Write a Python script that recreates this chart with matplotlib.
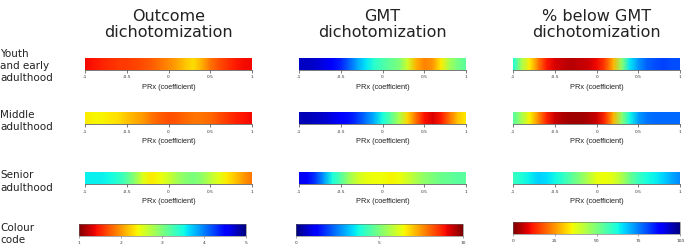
import numpy as np
import matplotlib
matplotlib.use("Agg")
import matplotlib.pyplot as plt
from matplotlib.colors import Normalize
from matplotlib.cm import ScalarMappable

# PRx grid the values were read at
prx = [-1.0, -0.9, -0.8, -0.7, -0.6, -0.5, -0.4, -0.3, -0.2, -0.1, 0.0,
       0.1, 0.2, 0.3, 0.4, 0.5, 0.6, 0.7, 0.8, 0.9, 1.0]

col_titles = ["Outcome\ndichotomization", "GMT\ndichotomization", "% below GMT\ndichotomization"]
row_labels = ["Youth\nand early\nadulthood", "Middle\nadulthood", "Senior\nadulthood", "Colour\ncode"]

# outcome dichotomization (colour code 1-5)
outcome_youth = [1.4, 1.45, 1.5, 1.55, 1.6, 1.62, 1.65, 1.7, 1.75, 1.85, 1.95,
                 2.05, 2.2, 2.3, 2.1, 1.85, 1.7, 1.58, 1.48, 1.42, 1.4]
outcome_middle = [2.35, 2.4, 2.4, 2.35, 2.3, 2.2, 2.1, 2.0, 1.85, 1.75, 1.7,
                  1.72, 1.8, 1.85, 1.85, 1.8, 1.7, 1.6, 1.5, 1.44, 1.4]
outcome_senior = [3.55, 3.55, 3.55, 3.5, 3.4, 3.2, 2.9, 2.5, 2.35, 2.45, 2.6,
                  2.8, 2.95, 3.0, 2.9, 2.7, 2.5, 2.35, 2.2, 2.0, 1.85]

# GMT dichotomization (colour code 0-10)
gmt_youth = [0.6, 0.6, 0.7, 0.9, 1.2, 1.6, 2.2, 2.9, 3.5, 4.0, 4.4,
             4.7, 5.0, 6.0, 7.2, 7.7, 7.5, 6.6, 5.5, 4.9, 4.6]
gmt_middle = [0.5, 0.5, 0.6, 0.7, 0.9, 1.1, 1.4, 1.8, 2.4, 3.0, 3.8,
              4.6, 5.6, 6.8, 7.9, 8.9, 9.2, 8.8, 7.9, 7.0, 6.6]
gmt_senior = [1.0, 1.2, 1.8, 2.8, 3.8, 4.5, 5.4, 6.0, 6.3, 6.4, 6.4,
              6.5, 6.4, 6.0, 5.6, 5.2, 5.0, 4.8, 4.7, 4.6, 4.6]

# % below GMT dichotomization (colour code 0-100)
below_youth = [62, 45, 34, 22, 12, 8, 6, 5, 6, 7, 10,
               16, 28, 48, 65, 73, 78, 80, 81, 80, 80]
below_middle = [55, 45, 35, 24, 13, 7, 4, 3, 3, 4, 7,
                14, 28, 48, 63, 72, 76, 77, 77, 77, 77]
below_senior = [58, 61, 64, 67, 66, 63, 59, 54, 49, 43, 37,
                36, 38, 44, 52, 58, 62, 64, 67, 71, 74]

columns = [
    ([outcome_youth, outcome_middle, outcome_senior], "jet_r", (1, 5), [1, 2, 3, 4, 5]),
    ([gmt_youth, gmt_middle, gmt_senior], "jet", (0, 10), [0, 5, 10]),
    ([below_youth, below_middle, below_senior], "jet_r", (0, 100), [0, 25, 50, 75, 100]),
]

fig = plt.figure(figsize=(6.85, 2.48), dpi=100)

# layout in figure fractions
col_left = [0.124, 0.4365, 0.749]
key_left = [0.115, 0.432, 0.749]
bar_w = 0.244
row_bottom = [0.718, 0.500, 0.258]
row_h = 0.050
key_bottom = [0.048, 0.048, 0.056]

for c, (series, cmap, (vmin, vmax), key_ticks) in enumerate(columns):
    norm = Normalize(vmin, vmax)
    for r, vals in enumerate(series):
        ax = fig.add_axes([col_left[c], row_bottom[r], bar_w, row_h])
        X = np.array([prx, prx])
        Y = np.array([[0] * len(prx), [1] * len(prx)])
        Z = np.array([vals, vals], dtype=float)
        ax.pcolormesh(X, Y, Z, cmap=cmap, norm=norm, shading="gouraud")
        ax.set_xlim(-1, 1)
        ax.set_ylim(0, 1)
        ax.set_yticks([])
        ax.set_xticks([-1, -0.5, 0, 0.5, 1])
        ax.set_xticklabels(["-1", "-0.5", "0", "0.5", "1"])
        for s in ["top", "left", "right"]:
            ax.spines[s].set_visible(False)
        ax.spines["bottom"].set_linewidth(0.5)
        ax.spines["bottom"].set_color("#444444")
        ax.tick_params(axis="x", length=2.5, width=0.5, pad=1.5, labelsize=3.2,
                       colors="#444444", labelcolor="#333333")
        ax.set_xlabel("PRx (coefficient)", fontsize=5.3, family="Liberation Sans",
                      color="#222222", labelpad=3.5)

    # colour code key
    kax = fig.add_axes([key_left[c], key_bottom[c], bar_w, row_h])
    cb = fig.colorbar(ScalarMappable(norm=norm, cmap=cmap), cax=kax, orientation="horizontal")
    cb.set_ticks(key_ticks)
    cb.outline.set_linewidth(0.4)
    cb.outline.set_edgecolor("#666666")
    kax.tick_params(axis="x", length=1.5, width=0.4, pad=2, labelsize=3.2,
                    colors="#666666", labelcolor="#333333")

    # column title
    fig.text(col_left[c] + bar_w / 2, 0.965, col_titles[c], ha="center", va="top",
             fontsize=11.5, linespacing=1.15, color="#222222")

# row labels
label_y = [0.734, 0.512, 0.268, 0.056]
for r, lab in enumerate(row_labels):
    fig.text(0.0, label_y[r], lab, ha="left", va="center", fontsize=7.5,
             linespacing=1.3, color="#222222")

fig.savefig("out.png", dpi=100)
